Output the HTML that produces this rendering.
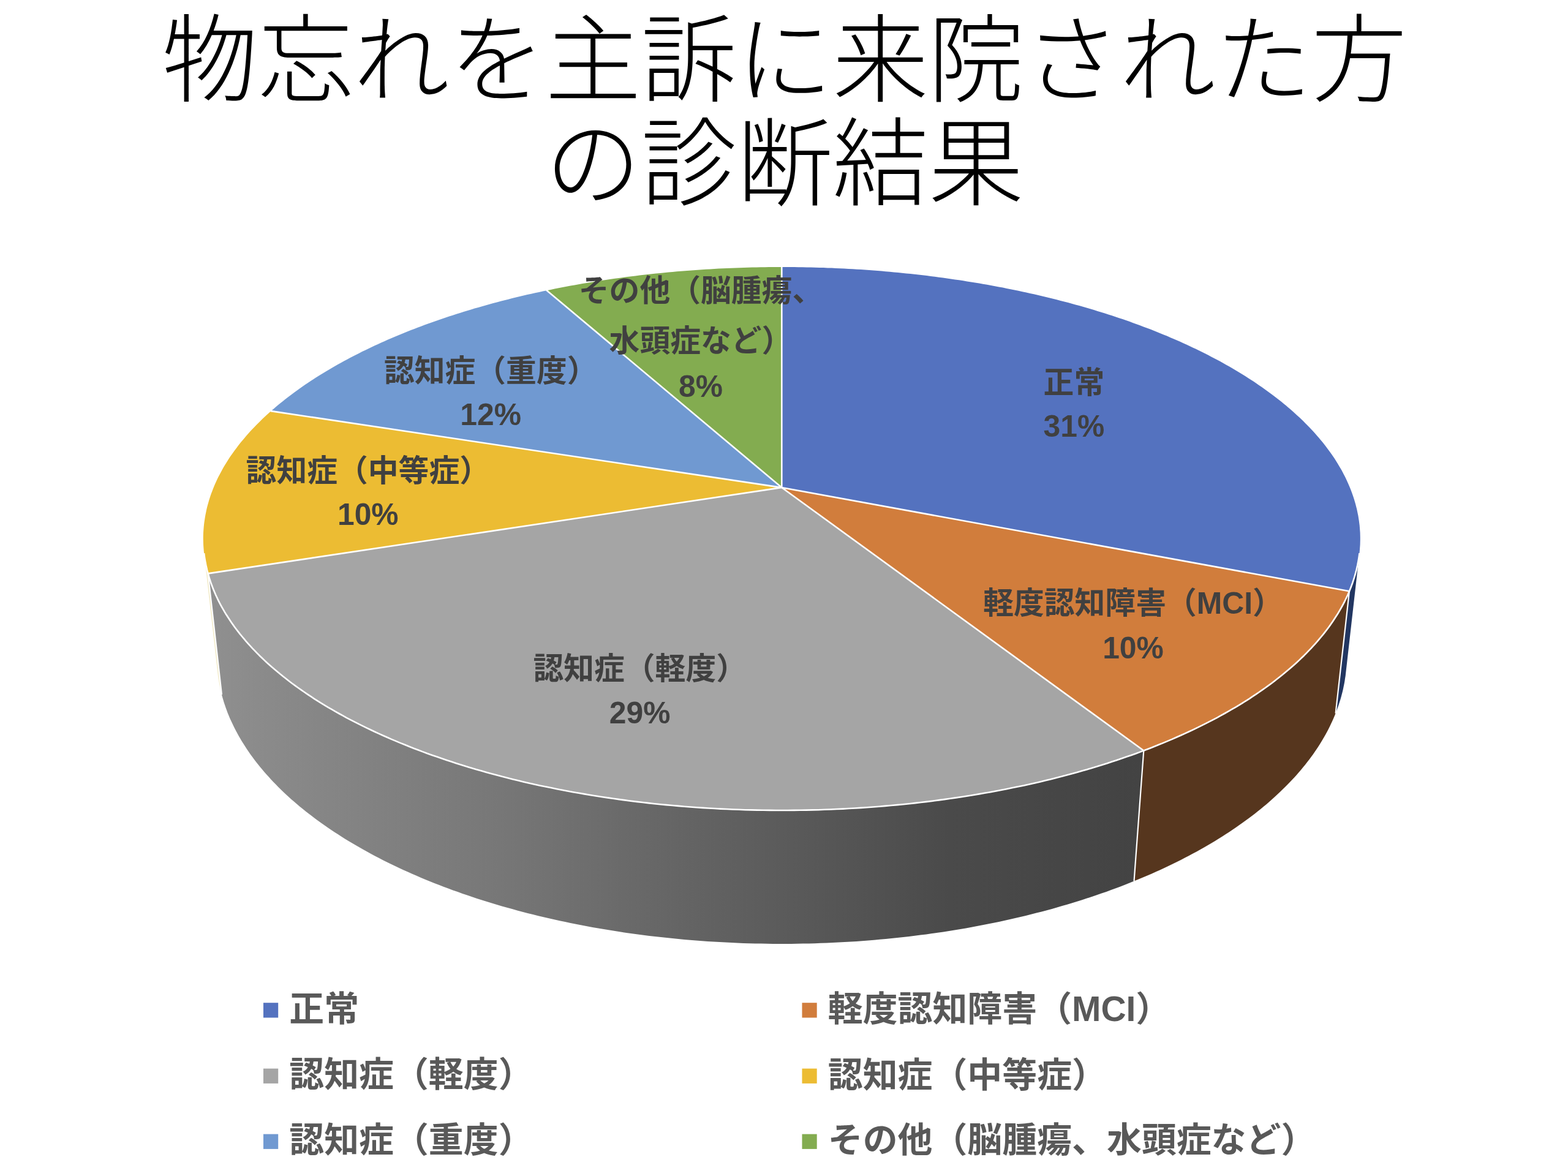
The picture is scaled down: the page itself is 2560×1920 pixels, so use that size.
<!DOCTYPE html>
<html lang="ja">
<head>
<meta charset="utf-8">
<title>物忘れを主訴に来院された方の診断結果</title>
<style>
html,body{margin:0;padding:0;background:#fff}
body{width:2560px;height:1920px;overflow:hidden;font-family:"Liberation Sans",sans-serif}
svg{display:block}
</style>
</head>
<body>
<svg width="2560" height="1920" viewBox="0 0 2560 1920">
<defs>
<linearGradient id="gs" gradientUnits="userSpaceOnUse" x1="340" y1="0" x2="1860" y2="0"><stop offset="0.0000" stop-color="#909090"/><stop offset="0.0395" stop-color="#8C8C8C"/><stop offset="0.3026" stop-color="#787878"/><stop offset="0.4671" stop-color="#686868"/><stop offset="0.6158" stop-color="#5B5B5B"/><stop offset="0.7961" stop-color="#4A4A4A"/><stop offset="0.9737" stop-color="#444444"/><stop offset="1.0000" stop-color="#434343"/></linearGradient>
</defs>
<rect width="2560" height="1920" fill="#fff"/>
<g id="pie">
<polygon points="2219.5,903.1 2218.9,907.3 2218.4,911.4 2217.7,915.5 2216.9,919.6 2216.1,923.8 2215.2,927.9 2214.1,932.0 2213.1,936.2 2211.9,940.3 2210.6,944.5 2209.3,948.6 2207.8,952.8 2206.3,956.9 2204.7,961.1 2203.0,965.2 2180.6,1164.6 2182.3,1160.2 2183.9,1155.8 2185.4,1151.5 2186.8,1147.1 2188.2,1142.7 2189.5,1138.3 2190.6,1134.0 2191.8,1129.6 2192.8,1125.2 2193.7,1120.8 2194.6,1116.5 2195.4,1112.1 2196.0,1107.7 2196.7,1103.4 2197.2,1099.0" fill="#223661"/>
<polygon points="2203.0,965.2 2201.3,969.2 2199.5,973.2 2197.6,977.2 2195.6,981.2 2193.6,985.2 2191.4,989.2 2189.2,993.2 2186.9,997.2 2184.5,1001.2 2182.1,1005.2 2179.5,1009.2 2176.9,1013.1 2174.2,1017.1 2171.4,1021.1 2168.5,1025.0 2165.5,1029.0 2162.5,1032.9 2159.4,1036.9 2156.1,1040.8 2152.8,1044.7 2149.5,1048.6 2146.0,1052.5 2142.4,1056.4 2138.8,1060.3 2135.1,1064.2 2131.2,1068.0 2127.4,1071.9 2123.4,1075.7 2119.3,1079.5 2115.2,1083.3 2110.9,1087.1 2106.6,1090.9 2102.2,1094.7 2097.7,1098.4 2093.2,1102.2 2088.5,1105.9 2083.8,1109.6 2078.9,1113.3 2074.0,1117.0 2069.1,1120.6 2064.0,1124.3 2058.8,1127.9 2053.6,1131.5 2048.3,1135.0 2042.9,1138.6 2037.4,1142.2 2031.8,1145.7 2026.2,1149.2 2020.5,1152.6 2014.7,1156.1 2008.8,1159.5 2002.8,1162.9 1996.7,1166.3 1990.6,1169.7 1984.4,1173.0 1978.1,1176.3 1971.8,1179.6 1965.3,1182.9 1958.8,1186.1 1952.2,1189.3 1945.5,1192.5 1938.8,1195.6 1932.0,1198.8 1925.1,1201.8 1918.1,1204.9 1911.1,1207.9 1903.9,1210.9 1896.8,1213.9 1889.5,1216.9 1882.2,1219.8 1874.8,1222.6 1867.3,1225.5 1851.5,1438.6 1858.8,1435.6 1866.0,1432.6 1873.2,1429.6 1880.3,1426.5 1887.3,1423.3 1894.2,1420.2 1901.1,1417.0 1907.9,1413.8 1914.6,1410.5 1921.3,1407.3 1927.9,1403.9 1934.4,1400.6 1940.8,1397.2 1947.2,1393.8 1953.5,1390.4 1959.7,1387.0 1965.9,1383.5 1971.9,1380.0 1977.9,1376.5 1983.8,1372.9 1989.7,1369.3 1995.4,1365.7 2001.1,1362.1 2006.7,1358.4 2012.2,1354.7 2017.7,1351.0 2023.0,1347.3 2028.3,1343.6 2033.5,1339.8 2038.7,1336.0 2043.7,1332.2 2048.7,1328.4 2053.6,1324.5 2058.4,1320.7 2063.1,1316.8 2067.8,1312.9 2072.3,1309.0 2076.8,1305.0 2081.2,1301.1 2085.5,1297.1 2089.8,1293.1 2093.9,1289.1 2098.0,1285.1 2102.0,1281.1 2105.9,1277.0 2109.7,1273.0 2113.5,1268.9 2117.1,1264.9 2120.7,1260.8 2124.2,1256.7 2127.6,1252.6 2131.0,1248.4 2134.2,1244.3 2137.4,1240.2 2140.5,1236.0 2143.5,1231.9 2146.4,1227.7 2149.3,1223.5 2152.0,1219.4 2154.7,1215.2 2157.3,1211.0 2159.8,1206.8 2162.3,1202.6 2164.6,1198.4 2166.9,1194.2 2169.1,1190.0 2171.2,1185.7 2173.2,1181.5 2175.2,1177.3 2177.1,1173.1 2178.9,1168.8 2180.6,1164.6" fill="#56361E"/>
<polygon points="1867.3,1225.5 1859.7,1228.3 1852.1,1231.1 1844.4,1233.9 1836.6,1236.6 1828.7,1239.3 1820.8,1241.9 1812.9,1244.5 1804.8,1247.1 1796.7,1249.6 1788.5,1252.1 1780.3,1254.6 1772.0,1257.0 1763.7,1259.4 1755.3,1261.8 1746.8,1264.1 1738.3,1266.4 1729.7,1268.6 1721.1,1270.8 1712.4,1272.9 1703.6,1275.1 1694.8,1277.1 1686.0,1279.2 1677.1,1281.1 1668.1,1283.1 1659.1,1285.0 1650.0,1286.8 1640.9,1288.7 1631.8,1290.4 1622.6,1292.2 1613.4,1293.8 1604.1,1295.5 1594.8,1297.1 1585.4,1298.6 1576.0,1300.1 1566.6,1301.6 1557.1,1303.0 1547.6,1304.3 1538.1,1305.7 1528.5,1306.9 1518.9,1308.2 1509.3,1309.3 1499.6,1310.5 1489.9,1311.6 1480.2,1312.6 1470.4,1313.6 1460.6,1314.5 1450.8,1315.4 1441.0,1316.2 1431.2,1317.0 1421.3,1317.8 1411.4,1318.5 1401.5,1319.1 1391.6,1319.7 1381.7,1320.3 1371.7,1320.8 1361.8,1321.2 1351.8,1321.6 1341.8,1322.0 1331.8,1322.3 1321.8,1322.5 1311.8,1322.7 1301.8,1322.9 1291.8,1323.0 1281.8,1323.0 1271.8,1323.0 1261.8,1323.0 1251.8,1322.9 1241.8,1322.7 1231.8,1322.6 1221.8,1322.3 1211.8,1322.0 1201.8,1321.7 1191.9,1321.3 1181.9,1320.8 1172.0,1320.3 1162.0,1319.8 1152.1,1319.2 1142.2,1318.6 1132.3,1317.9 1122.4,1317.1 1112.6,1316.3 1102.8,1315.5 1093.0,1314.6 1083.2,1313.7 1073.4,1312.7 1063.7,1311.7 1054.0,1310.6 1044.3,1309.5 1034.7,1308.3 1025.1,1307.1 1015.5,1305.8 1006.0,1304.5 996.5,1303.1 987.0,1301.7 977.5,1300.3 968.1,1298.8 958.8,1297.2 949.5,1295.6 940.2,1294.0 930.9,1292.3 921.7,1290.6 912.6,1288.8 903.5,1287.0 894.4,1285.2 885.4,1283.3 876.5,1281.3 867.6,1279.4 858.7,1277.3 849.9,1275.3 841.1,1273.2 832.4,1271.0 823.8,1268.8 815.2,1266.6 806.7,1264.3 798.2,1262.0 789.8,1259.7 781.4,1257.3 773.1,1254.9 764.9,1252.4 756.7,1249.9 748.6,1247.4 740.6,1244.8 732.6,1242.2 724.7,1239.5 716.8,1236.9 709.0,1234.1 701.3,1231.4 693.7,1228.6 686.1,1225.8 678.6,1222.9 671.1,1220.0 663.8,1217.1 656.5,1214.2 649.3,1211.2 642.1,1208.2 635.0,1205.1 628.0,1202.1 621.1,1199.0 614.2,1195.8 607.5,1192.7 600.8,1189.5 594.1,1186.3 587.6,1183.0 581.1,1179.8 574.7,1176.5 568.4,1173.1 562.2,1169.8 556.0,1166.4 550.0,1163.0 544.0,1159.6 538.1,1156.2 532.2,1152.7 526.5,1149.2 520.8,1145.7 515.2,1142.2 509.7,1138.6 504.3,1135.0 499.0,1131.4 493.7,1127.8 488.5,1124.2 483.4,1120.5 478.4,1116.9 473.5,1113.2 468.7,1109.5 463.9,1105.8 459.3,1102.0 454.7,1098.3 450.2,1094.5 445.8,1090.7 441.4,1086.9 437.2,1083.1 433.0,1079.3 429.0,1075.4 425.0,1071.6 421.1,1067.7 417.3,1063.9 413.5,1060.0 409.9,1056.1 406.3,1052.2 402.8,1048.3 399.4,1044.3 396.1,1040.4 392.9,1036.4 389.8,1032.5 386.7,1028.5 383.8,1024.6 380.9,1020.6 378.1,1016.6 375.4,1012.6 372.7,1008.7 370.2,1004.7 367.7,1000.7 365.3,996.7 363.1,992.6 360.8,988.6 358.7,984.6 356.7,980.6 354.7,976.6 352.8,972.6 351.0,968.5 349.3,964.5 347.7,960.5 346.1,956.5 344.7,952.5 343.3,948.4 342.0,944.4 340.7,940.4 339.6,936.4 362.0,1134.1 363.2,1138.4 364.4,1142.6 365.7,1146.9 367.1,1151.1 368.6,1155.4 370.1,1159.6 371.7,1163.9 373.4,1168.1 375.2,1172.4 377.1,1176.6 379.1,1180.8 381.1,1185.1 383.2,1189.3 385.4,1193.6 387.7,1197.8 390.0,1202.0 392.5,1206.2 395.0,1210.4 397.6,1214.6 400.3,1218.8 403.0,1223.0 405.9,1227.2 408.8,1231.4 411.8,1235.6 414.9,1239.7 418.1,1243.9 421.3,1248.0 424.7,1252.2 428.1,1256.3 431.6,1260.4 435.2,1264.5 438.9,1268.6 442.6,1272.7 446.4,1276.8 450.4,1280.8 454.4,1284.9 458.5,1288.9 462.6,1292.9 466.9,1296.9 471.2,1300.9 475.6,1304.9 480.1,1308.8 484.7,1312.7 489.3,1316.7 494.1,1320.6 498.9,1324.4 503.8,1328.3 508.8,1332.1 513.9,1336.0 519.0,1339.8 524.2,1343.6 529.6,1347.3 534.9,1351.0 540.4,1354.8 546.0,1358.5 551.6,1362.1 557.3,1365.8 563.1,1369.4 568.9,1373.0 574.9,1376.6 580.9,1380.1 587.0,1383.6 593.1,1387.1 599.4,1390.6 605.7,1394.0 612.1,1397.4 618.6,1400.8 625.1,1404.2 631.7,1407.5 638.4,1410.8 645.2,1414.0 652.0,1417.3 658.9,1420.4 665.9,1423.6 673.0,1426.7 680.1,1429.8 687.3,1432.9 694.5,1435.9 701.9,1438.9 709.3,1441.9 716.7,1444.8 724.2,1447.7 731.8,1450.6 739.5,1453.4 747.2,1456.1 755.0,1458.9 762.8,1461.6 770.7,1464.2 778.7,1466.9 786.7,1469.5 794.8,1472.0 802.9,1474.5 811.1,1477.0 819.4,1479.4 827.7,1481.8 836.1,1484.1 844.5,1486.4 853.0,1488.7 861.5,1490.9 870.1,1493.0 878.7,1495.2 887.4,1497.2 896.1,1499.3 904.9,1501.3 913.7,1503.2 922.5,1505.1 931.4,1507.0 940.4,1508.8 949.4,1510.5 958.4,1512.2 967.5,1513.9 976.6,1515.5 985.7,1517.1 994.9,1518.6 1004.1,1520.1 1013.4,1521.5 1022.7,1522.9 1032.0,1524.2 1041.3,1525.5 1050.7,1526.7 1060.1,1527.9 1069.6,1529.0 1079.0,1530.1 1088.5,1531.1 1098.0,1532.1 1107.6,1533.0 1117.1,1533.9 1126.7,1534.8 1136.3,1535.5 1145.9,1536.3 1155.5,1536.9 1165.2,1537.5 1174.8,1538.1 1184.5,1538.6 1194.2,1539.1 1203.9,1539.5 1213.6,1539.9 1223.3,1540.2 1233.0,1540.4 1242.7,1540.6 1252.5,1540.8 1262.2,1540.9 1271.9,1541.0 1281.7,1541.0 1291.4,1540.9 1301.1,1540.8 1310.9,1540.6 1320.6,1540.4 1330.3,1540.2 1340.0,1539.8 1349.7,1539.5 1359.4,1539.1 1369.1,1538.6 1378.8,1538.1 1388.4,1537.5 1398.1,1536.9 1407.7,1536.2 1417.3,1535.4 1426.9,1534.7 1436.5,1533.8 1446.0,1533.0 1455.6,1532.0 1465.1,1531.0 1474.6,1530.0 1484.0,1528.9 1493.4,1527.8 1502.8,1526.6 1512.2,1525.4 1521.6,1524.1 1530.9,1522.7 1540.2,1521.4 1549.4,1519.9 1558.6,1518.5 1567.8,1516.9 1577.0,1515.4 1586.1,1513.7 1595.1,1512.1 1604.2,1510.3 1613.1,1508.6 1622.1,1506.8 1631.0,1504.9 1639.8,1503.0 1648.7,1501.1 1657.4,1499.1 1666.1,1497.0 1674.8,1494.9 1683.4,1492.8 1692.0,1490.6 1700.5,1488.4 1709.0,1486.2 1717.4,1483.9 1725.8,1481.5 1734.1,1479.1 1742.3,1476.7 1750.5,1474.2 1758.6,1471.7 1766.7,1469.2 1774.7,1466.6 1782.7,1464.0 1790.6,1461.3 1798.4,1458.6 1806.2,1455.9 1813.9,1453.1 1821.6,1450.3 1829.1,1447.4 1836.7,1444.5 1844.1,1441.6 1851.5,1438.6" fill="url(#gs)"/>
<polygon points="339.6,936.4 338.5,932.2 337.5,928.0 336.5,923.9 335.7,919.7 334.9,915.6 334.3,911.4 333.7,907.3 333.1,903.1 355.4,1099.0 355.9,1103.4 356.6,1107.8 357.3,1112.2 358.0,1116.6 358.9,1121.0 359.9,1125.4 360.9,1129.7 362.0,1134.1" fill="#F3ECCB"/>
<polygon points="1276.3,796.0 1276.3,436.0 1283.1,436.0 1289.9,436.0 1296.8,436.1 1303.6,436.2 1310.4,436.3 1317.2,436.4 1324.0,436.5 1330.8,436.7 1337.6,436.9 1344.4,437.1 1351.2,437.4 1358.0,437.6 1364.8,437.9 1371.6,438.2 1378.4,438.6 1385.2,438.9 1392.0,439.3 1398.8,439.7 1405.5,440.1 1412.3,440.6 1419.1,441.1 1425.8,441.6 1432.6,442.1 1439.3,442.6 1446.0,443.2 1452.8,443.8 1459.5,444.4 1466.2,445.0 1472.9,445.7 1479.6,446.4 1486.3,447.1 1493.0,447.8 1499.7,448.6 1506.3,449.3 1513.0,450.1 1519.6,450.9 1526.3,451.8 1532.9,452.7 1539.5,453.5 1546.1,454.5 1552.7,455.4 1559.3,456.4 1565.8,457.3 1572.4,458.3 1578.9,459.4 1585.5,460.4 1592.0,461.5 1598.5,462.6 1605.0,463.7 1611.5,464.8 1617.9,466.0 1624.4,467.2 1630.8,468.4 1637.2,469.6 1643.6,470.9 1650.0,472.2 1656.4,473.5 1662.8,474.8 1669.1,476.2 1675.4,477.5 1681.7,478.9 1688.0,480.3 1694.3,481.8 1700.5,483.2 1706.8,484.7 1713.0,486.2 1719.2,487.8 1725.3,489.3 1731.5,490.9 1737.6,492.5 1743.8,494.1 1749.8,495.8 1755.9,497.4 1762.0,499.1 1768.0,500.8 1774.0,502.6 1780.0,504.3 1786.0,506.1 1791.9,507.9 1797.8,509.7 1803.7,511.6 1809.6,513.4 1815.4,515.3 1821.2,517.2 1827.0,519.2 1832.8,521.1 1838.5,523.1 1844.3,525.1 1849.9,527.2 1855.6,529.2 1861.2,531.3 1866.8,533.4 1872.4,535.5 1878.0,537.6 1883.5,539.8 1889.0,542.0 1894.4,544.2 1899.9,546.4 1905.3,548.6 1910.6,550.9 1916.0,553.2 1921.3,555.5 1926.6,557.8 1931.8,560.2 1937.0,562.6 1942.2,565.0 1947.3,567.4 1952.5,569.8 1957.5,572.3 1962.6,574.8 1967.6,577.3 1972.6,579.8 1977.5,582.4 1982.4,584.9 1987.3,587.5 1992.1,590.1 1996.9,592.8 2001.6,595.4 2006.3,598.1 2011.0,600.8 2015.6,603.5 2020.2,606.2 2024.8,609.0 2029.3,611.8 2033.8,614.6 2038.2,617.4 2042.6,620.2 2047.0,623.1 2051.3,626.0 2055.5,628.9 2059.7,631.8 2063.9,634.7 2068.0,637.7 2072.1,640.7 2076.2,643.7 2080.2,646.7 2084.1,649.7 2088.0,652.8 2091.9,655.8 2095.7,658.9 2099.5,662.0 2103.2,665.2 2106.8,668.3 2110.5,671.5 2114.0,674.7 2117.5,677.9 2121.0,681.1 2124.4,684.3 2127.8,687.6 2131.1,690.9 2134.4,694.2 2137.6,697.5 2140.7,700.8 2143.8,704.1 2146.9,707.5 2149.9,710.9 2152.8,714.3 2155.7,717.7 2158.5,721.1 2161.3,724.6 2164.0,728.0 2166.6,731.5 2169.2,735.0 2171.8,738.5 2174.3,742.0 2176.7,745.6 2179.1,749.1 2181.4,752.7 2183.6,756.3 2185.8,759.9 2187.9,763.5 2190.0,767.1 2192.0,770.7 2193.9,774.4 2195.8,778.1 2197.6,781.7 2199.3,785.4 2201.0,789.2 2202.6,792.9 2204.1,796.6 2205.6,800.3 2207.0,804.1 2208.4,807.9 2209.7,811.7 2210.9,815.4 2212.0,819.2 2213.1,823.1 2214.1,826.9 2215.1,830.7 2215.9,834.6 2216.7,838.4 2217.5,842.3 2218.1,846.2 2218.7,850.0 2219.2,853.9 2219.7,857.8 2220.0,861.7 2220.3,865.7 2220.6,869.6 2220.7,873.5 2220.8,877.4 2220.8,881.4 2220.7,885.3 2220.6,889.3 2220.3,893.3 2220.0,897.2 2219.7,901.2 2219.2,905.2 2218.7,909.2 2218.1,913.1 2217.4,917.1 2216.6,921.1 2215.8,925.1 2214.9,929.1 2213.9,933.1 2212.8,937.1 2211.6,941.2 2210.4,945.2 2209.1,949.2 2207.7,953.2 2206.2,957.2 2204.6,961.2 2203.0,965.2" fill="#5472BF"/>
<polygon points="1276.3,796.0 2203.0,965.2 2201.3,969.2 2199.5,973.2 2197.6,977.2 2195.6,981.2 2193.6,985.2 2191.4,989.2 2189.2,993.2 2186.9,997.2 2184.5,1001.2 2182.1,1005.2 2179.5,1009.2 2176.9,1013.1 2174.2,1017.1 2171.4,1021.1 2168.5,1025.0 2165.5,1029.0 2162.5,1032.9 2159.4,1036.9 2156.1,1040.8 2152.8,1044.7 2149.5,1048.6 2146.0,1052.5 2142.4,1056.4 2138.8,1060.3 2135.1,1064.2 2131.2,1068.0 2127.4,1071.9 2123.4,1075.7 2119.3,1079.5 2115.2,1083.3 2110.9,1087.1 2106.6,1090.9 2102.2,1094.7 2097.7,1098.4 2093.2,1102.2 2088.5,1105.9 2083.8,1109.6 2078.9,1113.3 2074.0,1117.0 2069.1,1120.6 2064.0,1124.3 2058.8,1127.9 2053.6,1131.5 2048.3,1135.0 2042.9,1138.6 2037.4,1142.2 2031.8,1145.7 2026.2,1149.2 2020.5,1152.6 2014.7,1156.1 2008.8,1159.5 2002.8,1162.9 1996.7,1166.3 1990.6,1169.7 1984.4,1173.0 1978.1,1176.3 1971.8,1179.6 1965.3,1182.9 1958.8,1186.1 1952.2,1189.3 1945.5,1192.5 1938.8,1195.6 1932.0,1198.8 1925.1,1201.8 1918.1,1204.9 1911.1,1207.9 1903.9,1210.9 1896.8,1213.9 1889.5,1216.9 1882.2,1219.8 1874.8,1222.6 1867.3,1225.5" fill="#D17D3C"/>
<polygon points="1276.3,796.0 1867.3,1225.5 1859.7,1228.3 1852.1,1231.1 1844.4,1233.9 1836.6,1236.6 1828.7,1239.3 1820.8,1241.9 1812.9,1244.5 1804.8,1247.1 1796.7,1249.6 1788.5,1252.1 1780.3,1254.6 1772.0,1257.0 1763.7,1259.4 1755.3,1261.8 1746.8,1264.1 1738.3,1266.4 1729.7,1268.6 1721.1,1270.8 1712.4,1272.9 1703.6,1275.1 1694.8,1277.1 1686.0,1279.2 1677.1,1281.1 1668.1,1283.1 1659.1,1285.0 1650.0,1286.8 1640.9,1288.7 1631.8,1290.4 1622.6,1292.2 1613.4,1293.8 1604.1,1295.5 1594.8,1297.1 1585.4,1298.6 1576.0,1300.1 1566.6,1301.6 1557.1,1303.0 1547.6,1304.3 1538.1,1305.7 1528.5,1306.9 1518.9,1308.2 1509.3,1309.3 1499.6,1310.5 1489.9,1311.6 1480.2,1312.6 1470.4,1313.6 1460.6,1314.5 1450.8,1315.4 1441.0,1316.2 1431.2,1317.0 1421.3,1317.8 1411.4,1318.5 1401.5,1319.1 1391.6,1319.7 1381.7,1320.3 1371.7,1320.8 1361.8,1321.2 1351.8,1321.6 1341.8,1322.0 1331.8,1322.3 1321.8,1322.5 1311.8,1322.7 1301.8,1322.9 1291.8,1323.0 1281.8,1323.0 1271.8,1323.0 1261.8,1323.0 1251.8,1322.9 1241.8,1322.7 1231.8,1322.6 1221.8,1322.3 1211.8,1322.0 1201.8,1321.7 1191.9,1321.3 1181.9,1320.8 1172.0,1320.3 1162.0,1319.8 1152.1,1319.2 1142.2,1318.6 1132.3,1317.9 1122.4,1317.1 1112.6,1316.3 1102.8,1315.5 1093.0,1314.6 1083.2,1313.7 1073.4,1312.7 1063.7,1311.7 1054.0,1310.6 1044.3,1309.5 1034.7,1308.3 1025.1,1307.1 1015.5,1305.8 1006.0,1304.5 996.5,1303.1 987.0,1301.7 977.5,1300.3 968.1,1298.8 958.8,1297.2 949.5,1295.6 940.2,1294.0 930.9,1292.3 921.7,1290.6 912.6,1288.8 903.5,1287.0 894.4,1285.2 885.4,1283.3 876.5,1281.3 867.6,1279.4 858.7,1277.3 849.9,1275.3 841.1,1273.2 832.4,1271.0 823.8,1268.8 815.2,1266.6 806.7,1264.3 798.2,1262.0 789.8,1259.7 781.4,1257.3 773.1,1254.9 764.9,1252.4 756.7,1249.9 748.6,1247.4 740.6,1244.8 732.6,1242.2 724.7,1239.5 716.8,1236.9 709.0,1234.1 701.3,1231.4 693.7,1228.6 686.1,1225.8 678.6,1222.9 671.1,1220.0 663.8,1217.1 656.5,1214.2 649.3,1211.2 642.1,1208.2 635.0,1205.1 628.0,1202.1 621.1,1199.0 614.2,1195.8 607.5,1192.7 600.8,1189.5 594.1,1186.3 587.6,1183.0 581.1,1179.8 574.7,1176.5 568.4,1173.1 562.2,1169.8 556.0,1166.4 550.0,1163.0 544.0,1159.6 538.1,1156.2 532.2,1152.7 526.5,1149.2 520.8,1145.7 515.2,1142.2 509.7,1138.6 504.3,1135.0 499.0,1131.4 493.7,1127.8 488.5,1124.2 483.4,1120.5 478.4,1116.9 473.5,1113.2 468.7,1109.5 463.9,1105.8 459.3,1102.0 454.7,1098.3 450.2,1094.5 445.8,1090.7 441.4,1086.9 437.2,1083.1 433.0,1079.3 429.0,1075.4 425.0,1071.6 421.1,1067.7 417.3,1063.9 413.5,1060.0 409.9,1056.1 406.3,1052.2 402.8,1048.3 399.4,1044.3 396.1,1040.4 392.9,1036.4 389.8,1032.5 386.7,1028.5 383.8,1024.6 380.9,1020.6 378.1,1016.6 375.4,1012.6 372.7,1008.7 370.2,1004.7 367.7,1000.7 365.3,996.7 363.1,992.6 360.8,988.6 358.7,984.6 356.7,980.6 354.7,976.6 352.8,972.6 351.0,968.5 349.3,964.5 347.7,960.5 346.1,956.5 344.7,952.5 343.3,948.4 342.0,944.4 340.7,940.4 339.6,936.4" fill="#A5A5A5"/>
<polygon points="1276.3,796.0 339.6,936.4 338.5,932.3 337.5,928.3 336.6,924.2 335.8,920.2 335.0,916.1 334.4,912.1 333.8,908.0 333.2,904.0 332.8,900.0 332.5,895.9 332.2,891.9 332.0,887.9 331.9,883.9 331.8,879.9 331.8,875.9 331.9,871.9 332.1,867.9 332.4,864.0 332.7,860.0 333.1,856.0 333.6,852.1 334.2,848.2 334.8,844.2 335.5,840.3 336.3,836.4 337.1,832.5 338.0,828.6 339.0,824.7 340.1,820.9 341.2,817.0 342.4,813.2 343.7,809.3 345.0,805.5 346.5,801.7 347.9,797.9 349.5,794.1 351.1,790.3 352.8,786.6 354.5,782.8 356.3,779.1 358.2,775.4 360.2,771.7 362.2,768.0 364.2,764.3 366.4,760.6 368.6,757.0 370.8,753.4 373.1,749.7 375.5,746.1 378.0,742.5 380.5,739.0 383.0,735.4 385.7,731.9 388.4,728.3 391.1,724.8 393.9,721.3 396.8,717.9 399.7,714.4 402.6,711.0 405.7,707.6 408.8,704.1 411.9,700.8 415.1,697.4 418.4,694.0 421.7,690.7 425.0,687.4 428.4,684.1 431.9,680.8 435.4,677.5 439.0,674.3 442.6,671.1" fill="#ECBC33"/>
<polygon points="1276.3,796.0 442.6,671.1 446.2,667.9 449.9,664.7 453.7,661.6 457.4,658.5 461.3,655.4 465.2,652.3 469.1,649.2 473.1,646.2 477.1,643.2 481.1,640.2 485.3,637.2 489.4,634.2 493.6,631.3 497.9,628.3 502.1,625.4 506.5,622.5 510.8,619.7 515.3,616.8 519.7,614.0 524.2,611.2 528.8,608.4 533.3,605.7 538.0,602.9 542.6,600.2 547.3,597.5 552.1,594.8 556.8,592.2 561.6,589.5 566.5,586.9 571.4,584.3 576.3,581.7 581.3,579.2 586.3,576.7 591.3,574.1 596.4,571.7 601.5,569.2 606.6,566.7 611.8,564.3 617.0,561.9 622.2,559.5 627.5,557.2 632.8,554.8 638.2,552.5 643.5,550.2 648.9,548.0 654.4,545.7 659.8,543.5 665.3,541.3 670.8,539.1 676.4,536.9 682.0,534.8 687.6,532.7 693.2,530.6 698.9,528.5 704.6,526.5 710.3,524.4 716.0,522.4 721.8,520.5 727.6,518.5 733.4,516.6 739.3,514.7 745.1,512.8 751.0,510.9 757.0,509.0 762.9,507.2 768.9,505.4 774.9,503.6 780.9,501.9 786.9,500.2 793.0,498.4 799.1,496.8 805.2,495.1 811.3,493.5 817.5,491.8 823.6,490.2 829.8,488.7 836.0,487.1 842.2,485.6 848.5,484.1 854.8,482.6 861.0,481.1 867.3,479.7 873.7,478.3 880.0,476.9 886.3,475.5 892.7,474.2" fill="#7099D1"/>
<polygon points="1276.3,796.0 892.7,474.2 899.1,472.9 905.6,471.6 912.0,470.3 918.5,469.0 925.0,467.8 931.5,466.6 938.0,465.4 944.6,464.2 951.1,463.1 957.7,462.0 964.2,460.9 970.8,459.8 977.4,458.8 984.0,457.7 990.7,456.7 997.3,455.8 1004.0,454.8 1010.6,453.9 1017.3,453.0 1024.0,452.1 1030.7,451.2 1037.4,450.4 1044.1,449.6 1050.8,448.8 1057.6,448.0 1064.3,447.3 1071.1,446.6 1077.8,445.9 1084.6,445.2 1091.4,444.6 1098.1,443.9 1104.9,443.3 1111.7,442.8 1118.5,442.2 1125.4,441.7 1132.2,441.2 1139.0,440.7 1145.8,440.2 1152.7,439.8 1159.5,439.4 1166.3,439.0 1173.2,438.6 1180.1,438.3 1186.9,438.0 1193.8,437.7 1200.6,437.4 1207.5,437.2 1214.4,436.9 1221.3,436.7 1228.1,436.6 1235.0,436.4 1241.9,436.3 1248.8,436.2 1255.6,436.1 1262.5,436.0 1269.4,436.0 1276.3,436.0" fill="#83AC50"/>
<path d="M1276.3,796.0 L1276.3,436.0 M1276.3,796.0 L2203.0,965.2 M1276.3,796.0 L1867.3,1225.5 M1276.3,796.0 L339.6,936.4 M1276.3,796.0 L442.6,671.1 M1276.3,796.0 L892.7,474.2" stroke="#fff" stroke-width="2.6" fill="none" stroke-linecap="round"/>
<polyline points="2219.5,903.1 2219.0,907.1 2218.4,911.1 2217.7,915.1 2217.0,919.1 2216.2,923.1 2215.3,927.1 2214.4,931.1 2213.3,935.1 2212.2,939.1 2211.0,943.2 2209.7,947.2 2208.4,951.2 2206.9,955.2 2205.4,959.2 2203.8,963.2 2202.1,967.2 2200.4,971.3 2198.5,975.3 2196.6,979.3 2194.6,983.3 2192.5,987.3 2190.3,991.3 2188.0,995.3 2185.7,999.3 2183.3,1003.3 2180.7,1007.3 2178.1,1011.3 2175.5,1015.3 2172.7,1019.2 2169.9,1023.2 2166.9,1027.2 2163.9,1031.1 2160.8,1035.1 2157.6,1039.0 2154.3,1042.9 2151.0,1046.9 2147.5,1050.8 2144.0,1054.7 2140.4,1058.6 2136.7,1062.4 2132.9,1066.3 2129.1,1070.2 2125.1,1074.0 2121.1,1077.9 2117.0,1081.7 2112.8,1085.5 2108.5,1089.3 2104.1,1093.1 2099.6,1096.8 2095.1,1100.6 2090.5,1104.3 2085.7,1108.1 2081.0,1111.8 2076.1,1115.5 2071.1,1119.1 2066.1,1122.8 2060.9,1126.4 2055.7,1130.0 2050.4,1133.6 2045.0,1137.2 2039.6,1140.8 2034.0,1144.3 2028.4,1147.8 2022.7,1151.3 2016.9,1154.8 2011.0,1158.2 2005.1,1161.6 1999.1,1165.0 1992.9,1168.4 1986.8,1171.8 1980.5,1175.1 1974.1,1178.4 1967.7,1181.7 1961.2,1184.9 1954.6,1188.1 1948.0,1191.3 1941.2,1194.5 1934.4,1197.6 1927.5,1200.7 1920.6,1203.8 1913.6,1206.9 1906.4,1209.9 1899.3,1212.9 1892.0,1215.8 1884.7,1218.8 1877.3,1221.7 1869.8,1224.5 1862.3,1227.4 1854.7,1230.2 1847.0,1232.9 1839.3,1235.6 1831.5,1238.3 1823.6,1241.0 1815.7,1243.6 1807.7,1246.2 1799.6,1248.7 1791.5,1251.3 1783.3,1253.7 1775.0,1256.2 1766.7,1258.6 1758.3,1260.9 1749.9,1263.3 1741.4,1265.5 1732.9,1267.8 1724.2,1270.0 1715.6,1272.2 1706.9,1274.3 1698.1,1276.4 1689.3,1278.4 1680.4,1280.4 1671.5,1282.4 1662.5,1284.3 1653.5,1286.1 1644.4,1288.0 1635.3,1289.7 1626.2,1291.5 1617.0,1293.2 1607.7,1294.8 1598.5,1296.4 1589.1,1298.0 1579.8,1299.5 1570.4,1301.0 1560.9,1302.4 1551.4,1303.8 1541.9,1305.1 1532.4,1306.4 1522.8,1307.7 1513.2,1308.9 1503.6,1310.0 1493.9,1311.1 1484.2,1312.2 1474.5,1313.2 1464.7,1314.1 1454.9,1315.0 1445.1,1315.9 1435.3,1316.7 1425.5,1317.5 1415.6,1318.2 1405.7,1318.9 1395.9,1319.5 1385.9,1320.0 1376.0,1320.6 1366.1,1321.0 1356.1,1321.5 1346.2,1321.8 1336.2,1322.2 1326.2,1322.4 1316.3,1322.6 1306.3,1322.8 1296.3,1322.9 1286.3,1323.0 1276.3,1323.0 1266.3,1323.0 1256.3,1322.9 1246.3,1322.8 1236.3,1322.6 1226.4,1322.4 1216.4,1322.2 1206.4,1321.8 1196.5,1321.5 1186.5,1321.0 1176.6,1320.6 1166.7,1320.0 1156.7,1319.5 1146.9,1318.9 1137.0,1318.2 1127.1,1317.5 1117.3,1316.7 1107.5,1315.9 1097.7,1315.0 1087.9,1314.1 1078.1,1313.2 1068.4,1312.2 1058.7,1311.1 1049.0,1310.0 1039.4,1308.9 1029.8,1307.7 1020.2,1306.4 1010.7,1305.1 1001.2,1303.8 991.7,1302.4 982.2,1301.0 972.8,1299.5 963.5,1298.0 954.1,1296.4 944.9,1294.8 935.6,1293.2 926.4,1291.5 917.3,1289.7 908.2,1288.0 899.1,1286.1 890.1,1284.3 881.1,1282.4 872.2,1280.4 863.3,1278.4 854.5,1276.4 845.7,1274.3 837.0,1272.2 828.4,1270.0 819.7,1267.8 811.2,1265.5 802.7,1263.3 794.3,1260.9 785.9,1258.6 777.6,1256.2 769.3,1253.7 761.1,1251.3 753.0,1248.7 744.9,1246.2 736.9,1243.6 729.0,1241.0 721.1,1238.3 713.3,1235.6 705.6,1232.9 697.9,1230.2 690.3,1227.4 682.8,1224.5 675.3,1221.7 667.9,1218.8 660.6,1215.8 653.3,1212.9 646.2,1209.9 639.0,1206.9 632.0,1203.8 625.1,1200.7 618.2,1197.6 611.4,1194.5 604.6,1191.3 598.0,1188.1 591.4,1184.9 584.9,1181.7 578.5,1178.4 572.1,1175.1 565.8,1171.8 559.7,1168.4 553.5,1165.0 547.5,1161.6 541.6,1158.2 535.7,1154.8 529.9,1151.3 524.2,1147.8 518.6,1144.3 513.0,1140.8 507.6,1137.2 502.2,1133.6 496.9,1130.0 491.7,1126.4 486.5,1122.8 481.5,1119.1 476.5,1115.5 471.6,1111.8 466.9,1108.1 462.1,1104.3 457.5,1100.6 453.0,1096.8 448.5,1093.1 444.1,1089.3 439.8,1085.5 435.6,1081.7 431.5,1077.9 427.5,1074.0 423.5,1070.2 419.7,1066.3 415.9,1062.4 412.2,1058.6 408.6,1054.7 405.1,1050.8 401.6,1046.9 398.3,1042.9 395.0,1039.0 391.8,1035.1 388.7,1031.1 385.7,1027.2 382.7,1023.2 379.9,1019.2 377.1,1015.3 374.5,1011.3 371.9,1007.3 369.3,1003.3 366.9,999.3 364.6,995.3 362.3,991.3 360.1,987.3 358.0,983.3 356.0,979.3 354.1,975.3 352.2,971.3 350.5,967.2 348.8,963.2 347.2,959.2 345.7,955.2 344.2,951.2 342.9,947.2 341.6,943.2 340.4,939.1 339.3,935.1 338.2,931.1 337.3,927.1 336.4,923.1 335.6,919.1 334.9,915.1 334.2,911.1 333.6,907.1 333.1,903.1" stroke="#fff" stroke-width="2.6" fill="none" stroke-linejoin="round"/>
<path d="M2203.0,965.2 L2180.6,1164.6 M1867.3,1225.5 L1851.5,1438.6 M339.6,936.4 L362.0,1134.1" stroke="#fff" stroke-width="2.2" fill="none"/>
<rect x="430.0" y="1637.2" width="24.2" height="24.3" fill="#5472BF"/>
<rect x="1309.5" y="1637.2" width="24.2" height="24.3" fill="#D17D3C"/>
<rect x="430.0" y="1744.6" width="24.2" height="24.3" fill="#A5A5A5"/>
<rect x="1309.5" y="1744.6" width="24.2" height="24.3" fill="#ECBC33"/>
<rect x="430.0" y="1851.6" width="24.2" height="24.3" fill="#7099D1"/>
<rect x="1309.5" y="1851.6" width="24.2" height="24.3" fill="#83AC50"/>
</g>
<g id="text" font-family="&quot;Liberation Sans&quot;, &quot;Noto Sans CJK JP&quot;, sans-serif">
<text x="1281" y="154.4" font-size="156.4" font-weight="300" fill="#000" text-anchor="middle">物忘れを主訴に来院された方</text>
<text x="1281" y="323.3" font-size="156.4" font-weight="300" fill="#000" text-anchor="middle">の診断結果</text>
<g font-size="49.8" font-weight="bold" fill="#404040" text-anchor="middle">
<text x="1753.4" y="642.1">正常</text>
<text x="1753.4" y="713.3">31%</text>
<text x="1850" y="1002.3">軽度認知障害（MCI）</text>
<text x="1850" y="1074.8">10%</text>
<text x="1044.7" y="1109.3">認知症（軽度）</text>
<text x="1044.7" y="1180.7">29%</text>
<text x="600.8" y="786.1">認知症（中等症）</text>
<text x="600.8" y="857.4">10%</text>
<text x="801.2" y="622.9">認知症（重度）</text>
<text x="801.2" y="694.3">12%</text>
<text x="1144" y="492.1">その他（脳腫瘍、</text>
<text x="1144" y="574.2">水頭症など）</text>
<text x="1144" y="647.8">8%</text>
</g>
<g font-size="56.9" font-weight="bold" fill="#595959">
<text x="472.3" y="1666.6">正常</text>
<text x="1351.8" y="1666.6">軽度認知障害（MCI）</text>
<text x="472.3" y="1774.4">認知症（軽度）</text>
<text x="1351.8" y="1774.5">認知症（中等症）</text>
<text x="472.3" y="1881.4">認知症（重度）</text>
<text x="1351.8" y="1881.3">その他（脳腫瘍、水頭症など）</text>
</g>
</g>
</svg>
</body>
</html>
